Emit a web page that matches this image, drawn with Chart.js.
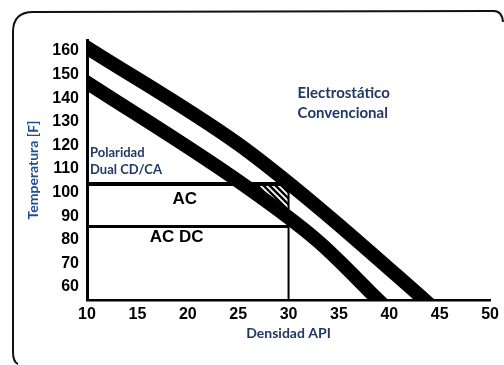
<!DOCTYPE html>
<html>
<head>
<meta charset="utf-8">
<script src="https://cdn.jsdelivr.net/npm/chart.js@4.4.1/dist/chart.umd.min.js"></script>
<style>
    html, body { margin: 0; padding: 0; background: #fff; }
    #wrap { width: 504px; height: 365px; }
</style>
</head>
<body>
<div id="wrap"><canvas id="chartDesalter"></canvas></div>
<script>
// Axis ticks
const apiTicks = [10, 15, 20, 25, 30, 35, 40, 45, 50];
const tempTicks = [60, 70, 80, 90, 100, 110, 120, 130, 140, 150, 160];

// Electrostatico convencional band (upper)
const electroApi = [9.5, 25.0, 32.9, 43.5, 44.0];
const electroTemp = [162.8, 120.6, 93.9, 54.5, 52.6];

// Polaridad dual band (lower)
const dualApi = [9.5, 25.0, 32.9, 38.9, 39.5];
const dualTemp = [148.0, 104.9, 79.5, 54.5, 52.0];

// Divider lines
const acLineApi = [10, 29.5];
const acLineTemp = [103.7, 103.7];
const acdcLineApi = [10, 30];
const acdcLineTemp = [85.6, 85.6];
const api30Api = [30, 30];
const api30Temp = [103.7, 54.5];

// Hatched zone
const hatchApi = [25.5, 30, 30, 25.5];
const hatchTemp = [103.7, 103.7, 88, 103.7];

const pts = (xs, ys) => xs.map((x, i) => ({ x: x, y: ys[i] }));

// diagonal stripe pattern for the hatched zone
const makeHatch = () => {
    const s = 6;
    const c = document.createElement("canvas");
    c.width = s;
    c.height = s;
    const g = c.getContext("2d");
    g.fillStyle = "#fff";
    g.fillRect(0, 0, s, s);
    g.strokeStyle = "#000";
    g.lineWidth = 2.4;
    g.beginPath();
    g.moveTo(-1, -1); g.lineTo(s + 1, s + 1);
    g.moveTo(-1, s - 1); g.lineTo(1, s + 1);
    g.moveTo(s - 1, -1); g.lineTo(s + 1, 1);
    g.stroke();
    return g.createPattern(c, "repeat");
};

const navy = "#1f3864";
const notes = [
    { text: "Electrostático", x: 30.9, y: 142.2, align: "left", font: "bold 15px Lato", color: navy },
    { text: "Convencional", x: 30.9, y: 133.7, align: "left", font: "bold 15px Lato", color: navy },
    { text: "Polaridad", x: 10.3, y: 116.8, align: "left", font: "bold 13px Lato", color: navy },
    { text: "Dual CD/CA", x: 10.3, y: 109.6, align: "left", font: "bold 13px Lato", color: navy },
    { text: "AC", x: 19.7, y: 97.3, align: "center", font: "bold 17px 'Liberation Sans'", color: "#000" },
    { text: "AC DC", x: 18.9, y: 81.2, align: "center", font: "bold 17px 'Liberation Sans'", color: "#000" },
];

const notesPlugin = {
    id: "notes",
    afterDatasetsDraw: (chart) => {
        const ctx = chart.ctx;
        const xs = chart.scales.x;
        const ys = chart.scales.y;
        ctx.save();
        ctx.textBaseline = "middle";
        notes.forEach((n) => {
            ctx.font = n.font;
            ctx.fillStyle = n.color;
            ctx.textAlign = n.align;
            ctx.fillText(n.text, xs.getPixelForValue(n.x), ys.getPixelForValue(n.y));
        });
        ctx.restore();
    },
};

// rounded frame around the figure
const framePlugin = {
    id: "frame",
    beforeDraw: (chart) => {
        const ctx = chart.ctx;
        ctx.save();
        ctx.strokeStyle = "#111";
        ctx.lineWidth = 2;
        ctx.beginPath();
        ctx.moveTo(18, 364);
        ctx.quadraticCurveTo(13, 362, 13, 352);
        ctx.lineTo(13, 32);
        ctx.quadraticCurveTo(13, 12, 33, 12);
        ctx.lineTo(494, 11);
        ctx.quadraticCurveTo(502, 11, 503, 22);
        ctx.stroke();
        ctx.restore();
    },
};

const band = (data) => ({
    data: data,
    showLine: true,
    borderColor: "#000",
    borderWidth: 14,
    pointRadius: 0,
    cubicInterpolationMode: "monotone",
    clip: 0,
    order: 0,
});

const rule = (data, w) => ({
    data: data,
    showLine: true,
    borderColor: "#000",
    borderWidth: w,
    pointRadius: 0,
    clip: 0,
    order: 1,
});

setupChart = () => {
    const config = {
        type: "scatter",
        data: {
            datasets: [
                band(pts(electroApi, electroTemp)),
                band(pts(dualApi, dualTemp)),
                rule(pts(acLineApi, acLineTemp), 4),
                rule(pts(acdcLineApi, acdcLineTemp), 3),
                rule(pts(api30Api, api30Temp), 2),
                {
                    data: pts(hatchApi, hatchTemp),
                    showLine: true,
                    borderWidth: 0,
                    pointRadius: 0,
                    fill: "shape",
                    backgroundColor: makeHatch(),
                    clip: 0,
                    order: 2,
                },
            ],
        },
        options: {
            responsive: true,
            maintainAspectRatio: false,
            animation: false,
            layout: { padding: { left: 20, top: 40, right: 10, bottom: 0 } },
            plugins: {
                legend: { display: false },
                tooltip: { enabled: false },
            },
            scales: {
                x: {
                    type: "linear",
                    min: 10,
                    max: 50,
                    afterBuildTicks: (s) => { s.ticks = apiTicks.map((v) => ({ value: v })); },
                    afterFit: (s) => { s.height = 65; },
                    grid: { display: false, drawTicks: false },
                    border: { display: true, color: "#000", width: 2.5 },
                    ticks: {
                        color: "#000",
                        padding: 5,
                        maxRotation: 0,
                        font: { family: "'Liberation Sans', Arial", size: 16, weight: "bold" },
                    },
                    title: {
                        display: true,
                        text: "Densidad API",
                        color: navy,
                        padding: { top: 0, bottom: 23 },
                        font: { family: "Lato", size: 14, weight: "bold" },
                    },
                },
                y: {
                    type: "linear",
                    min: 54.5,
                    max: 164.7,
                    afterBuildTicks: (s) => { s.ticks = tempTicks.map((v) => ({ value: v })); },
                    afterFit: (s) => { s.width = 67; },
                    grid: { display: false, drawTicks: false },
                    border: { display: true, color: "#000", width: 3 },
                    ticks: {
                        color: "#000",
                        padding: 8,
                        font: { family: "'Liberation Sans', Arial", size: 16, weight: "bold" },
                    },
                    title: {
                        display: true,
                        text: "Temperatura [F]",
                        color: "#1f4e8c",
                        padding: { top: 5, bottom: 0 },
                        font: { family: "Lato", size: 14, weight: "bold" },
                    },
                },
            },
        },
        plugins: [framePlugin, notesPlugin],
    };

    let ctx = document.getElementById("chartDesalter");

    let chart = new Chart(ctx, config);
};

setupChart();
</script>
</body>
</html>
